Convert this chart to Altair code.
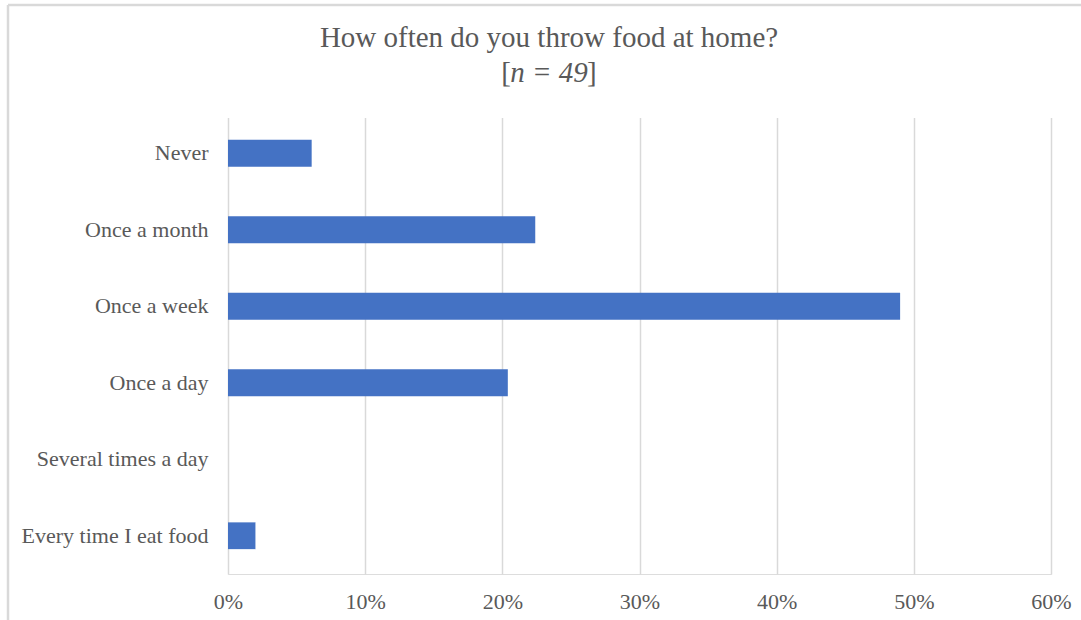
import altair as alt
import pandas as pd

categories = ["Never", "Once a month", "Once a week", "Once a day",
              "Several times a day", "Every time I eat food"]
shares = [0.061, 0.224, 0.490, 0.204, 0.0, 0.020]
x_ticks = [0, 0.1, 0.2, 0.3, 0.4, 0.5, 0.6]
title_line1 = "How often do you throw food at home?"
title_line2 = ["[", "n = 49", "]"]

df = pd.DataFrame({"category": categories, "share": shares})

TEXT = "#595959"
GRID = "#d9d9d9"
FONT = "Liberation Serif"
TCX = 321  # title centre, relative to plot left

bars = alt.Chart(df).mark_bar(color="#4472C4").encode(
    y=alt.Y("category:N", sort=categories, title=None,
            scale=alt.Scale(paddingInner=0.65, paddingOuter=0.325),
            axis=alt.Axis(labelFont=FONT, labelFontSize=22, labelColor=TEXT,
                          labelPadding=20, ticks=False, domain=False,
                          grid=False, labelLimit=400)),
    x=alt.X("share:Q", title=None,
            scale=alt.Scale(domain=[0, 0.6], nice=False),
            axis=alt.Axis(values=x_ticks, format=".0%", labelFont=FONT,
                          labelFontSize=22, labelColor=TEXT, labelPadding=17,
                          ticks=False, domain=False, grid=True,
                          gridColor=GRID, gridWidth=1.5, orient="bottom",
                          labelFlush=False, zindex=0)),
)

one = pd.DataFrame({"k": [0]})
border_top = alt.Chart(one).mark_rule(color=GRID, strokeWidth=2.5).encode(
    x=alt.value(-220), x2=alt.value(900), y=alt.value(-110),
)
border_left = alt.Chart(one).mark_rule(color=GRID, strokeWidth=2.5).encode(
    x=alt.value(-220), y=alt.value(-110), y2=alt.value(600),
)
# white cover along the top edge of the plot area (no frame line there)
top_cover = alt.Chart(one).mark_rule(color="white", strokeWidth=4).encode(
    x=alt.value(-3), x2=alt.value(827), y=alt.value(1),
)

def txt(s, x, y, align="center", style="normal"):
    return alt.Chart(pd.DataFrame({"t": [s]})).mark_text(
        font=FONT, fontSize=29, color=TEXT, align=align, baseline="middle",
        fontStyle=style,
    ).encode(text="t:N", x=alt.value(x), y=alt.value(y))

t1 = txt(title_line1, TCX, -77)
t2a = txt(title_line2[0], TCX - 38, -42, align="right")
t2b = txt(title_line2[1], TCX, -42, style="italic")
t2c = txt(title_line2[2], TCX + 38, -42, align="left")

chart = alt.layer(border_top, border_left, bars, top_cover,
                  t1, t2a, t2b, t2c).properties(
    width=823, height=459,
    autosize=alt.AutoSizeParams(type="none"),
    padding={"left": 228, "top": 115, "right": 30, "bottom": 46},
).configure_view(stroke="transparent", strokeWidth=0).configure_axisY(
    grid=False, domain=False
).configure_axisX(domain=False).configure(background="white")

chart.save("out.html", embed_options={"renderer": "svg", "actions": False})
